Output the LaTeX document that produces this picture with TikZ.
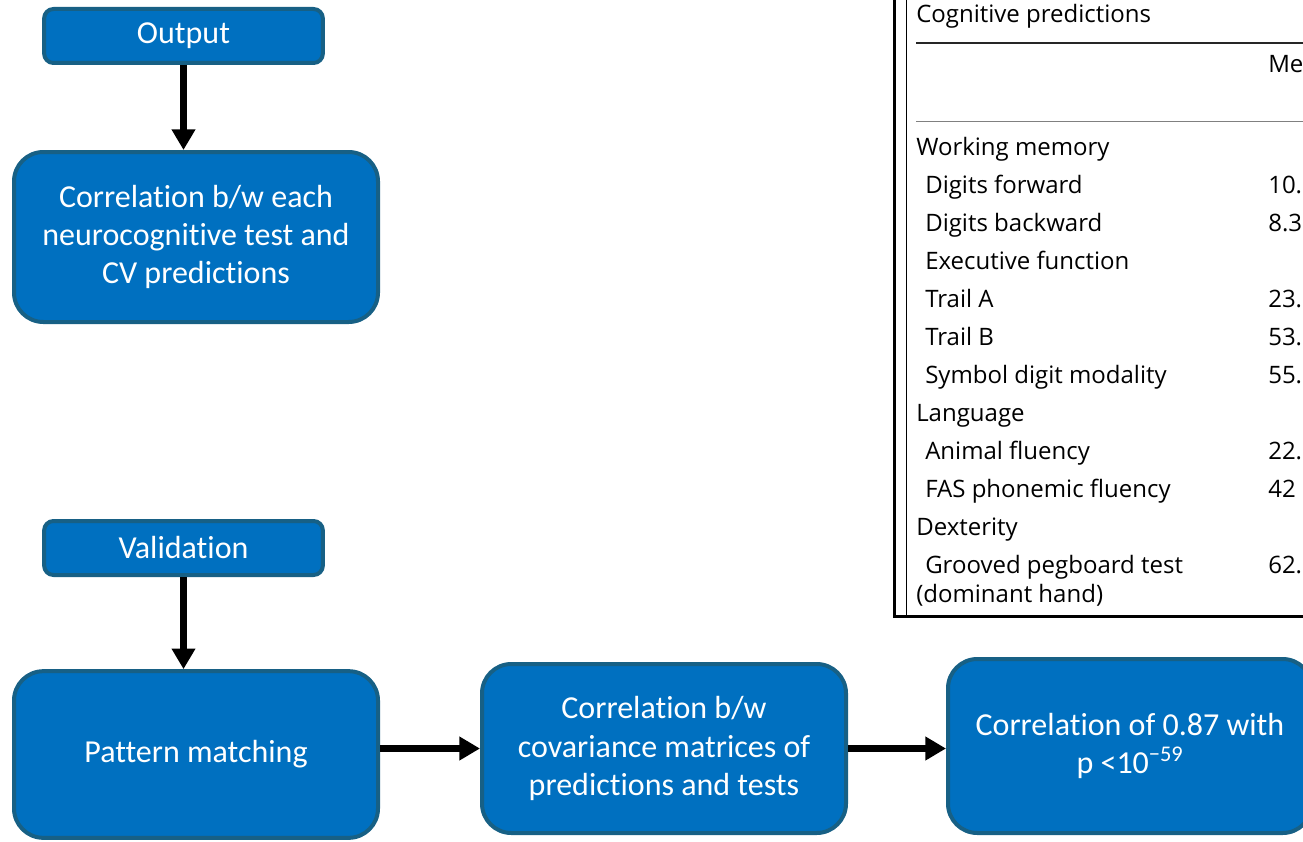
\documentclass[tikz,border=0pt]{standalone}
\usepackage{fontspec}
\usepackage{tikz}
\usetikzlibrary{calc, positioning, arrows.meta}
\setmainfont{Carlito}[Ligatures=NoCommon]
\newfontfamily\tblfont{Open Sans}
\definecolor{boxfill}{HTML}{0070C0}
\definecolor{boxedge}{HTML}{176085}
\definecolor{rulegray}{HTML}{808080}

\begin{document}
\begin{tikzpicture}[
      x=0.75pt, y=-0.75pt,
      font=\fontsize{24}{28.8}\selectfont,
      >={Triangle[length=15.5pt,width=17pt]},
      tag/.style={draw=boxedge, fill=boxfill, text=white, line width=3pt,
                  rounded corners=7pt, minimum width=209pt, minimum height=40.5pt,
                  inner sep=2pt},
      stage/.style={draw=boxedge, fill=boxfill, text=white, line width=3pt,
                    rounded corners=22pt, minimum width=273pt,
                    align=center, inner sep=4pt},
      row/.style={anchor=mid west, inner sep=0pt, font=\tblfont\fontsize{18}{21}\selectfont},
      flow/.style={->, line width=5.25pt, draw=black}
  ]
    \useasboundingbox (0,0) rectangle (1303,842);
    % left column
    \node[tag] (output) at (183.5,36) {Output};
    \node[stage, minimum height=127.5pt] (corrtest) at (196,237)
      {Correlation b/w each\\neurocognitive test and\\CV predictions};
    \node[tag] (valid) at (183.5,548) {Validation};
    \node[stage, minimum height=125pt] (pattern) at (196,754.5) {Pattern matching};
    % bottom row
    \node[stage, minimum height=126.75pt] (covmat) at (664,748.5)
      {Correlation b/w\\covariance matrices of\\predictions and tests};
    \node[stage, minimum height=130.5pt] (result) at (1130,746)
      {Correlation of 0.87 with\\p <10\textsuperscript{−59}};
    \draw[flow] (output.south) -- (output.south |- corrtest.north);
    \draw[flow] (valid.south) -- (valid.south |- pattern.north);
    \draw[flow] (covmat.west -| pattern.east) -- (covmat.west);
    \draw[flow] (covmat.east) -- (covmat.east -| result.west);
    % table excerpt
    \draw[line width=2.5pt] (894.5,-5) -- (894.5,616.5) -- (1310,616.5);
    \draw[line width=1pt] (906.5,-5) -- (906.5,616);
    \draw[line width=1.8pt, draw=black!85] (916,43) -- (1310,43);
    \draw[line width=1.2pt, draw=rulegray] (916,121.5) -- (1310,121.5);
    \node[row] (thead) at (916,19) {Cognitive predictions};
    \node[row] (tmean) at (1268,69) {Me};
    \node[row] (wm)   at (916,152) {Working memory};
    \node[row] (dfw)  at (925,190) {Digits forward};
    \node[row] (dbw)  at (925,228) {Digits backward};
    \node[row] (ef)   at (925,266) {Executive function};
    \node[row] (tra)  at (925,304) {Trail A};
    \node[row] (trb)  at (925,342) {Trail B};
    \node[row] (sdm)  at (925,380) {Symbol digit modality};
    \node[row] (lang) at (916,418) {Language};
    \node[row] (anf)  at (925,456) {Animal fluency};
    \node[row] (fas)  at (925,494) {FAS phonemic fluency};
    \node[row] (dex)  at (916,532) {Dexterity};
    \node[row] (gpt)  at (925,570) {Grooved pegboard test};
    \node[row] (dom)  at (916,599) {(dominant hand)};
    \node[row] at (1268,190) {10.9};
    \node[row] at (1268,228) {8.3};
    \node[row] at (1268,304) {23.0};
    \node[row] at (1268,342) {53.3};
    \node[row] at (1268,380) {55.8};
    \node[row] at (1268,456) {22.5};
    \node[row] at (1268,494) {42};
    \node[row] at (1268,570) {62.7};
  \end{tikzpicture}
\end{document}
